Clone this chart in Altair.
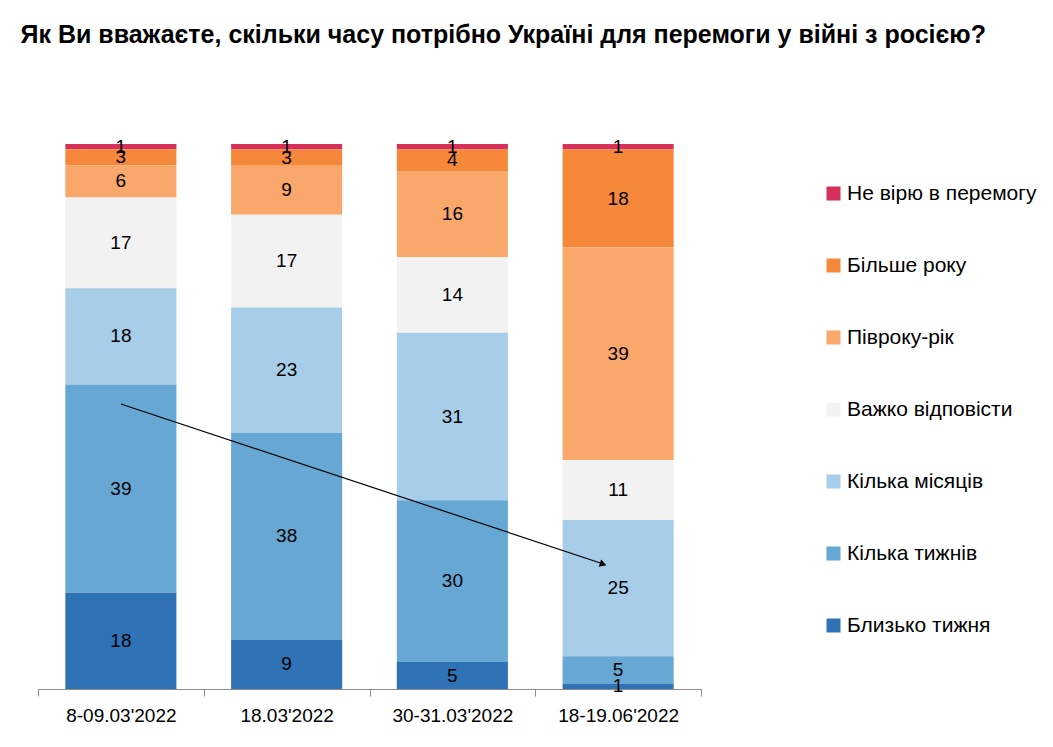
import altair as alt
import pandas as pd

dates = ["8-09.03'2022", "18.03'2022", "30-31.03'2022", "18-19.06'2022"]
answers = ["Не вірю в перемогу", "Більше року", "Півроку-рік", "Важко відповісти",
           "Кілька місяців", "Кілька тижнів", "Близько тижня"]
colors = ["#D6315B", "#F5883A", "#F9A76B", "#F2F2F2", "#A8CDE8", "#66A7D3", "#2F72B5"]

v_ne_viryu = [1, 1, 1, 1]
v_bilshe_roku = [3, 3, 4, 18]
v_pivroku_rik = [6, 9, 16, 39]
v_vazhko = [17, 17, 14, 11]
v_kilka_misyatsiv = [18, 23, 31, 25]
v_kilka_tyzhniv = [39, 38, 30, 5]
v_blyzko_tyzhnya = [18, 9, 5, 1]

series = [v_ne_viryu, v_bilshe_roku, v_pivroku_rik, v_vazhko,
          v_kilka_misyatsiv, v_kilka_tyzhniv, v_blyzko_tyzhnya]

# arrow (share of stacked bar height)
arrow_from = [dates[0]]
arrow_to = [dates[3]]
arrow_y_from = [0.523]
arrow_y_to = [0.229]

rows = []
for ai, (ans, vals) in enumerate(zip(answers, series)):
    for d, v in zip(dates, vals):
        rows.append({"date": d, "answer": ans, "value": v, "ord": len(answers) - 1 - ai})
df = pd.DataFrame(rows)

arrow_df = pd.DataFrame({"x_from": arrow_from, "x_to": arrow_to,
                         "y_from": arrow_y_from, "y_to": arrow_y_to})

FONT = "Liberation Sans"
xscale = alt.Scale(domain=dates, paddingInner=0, paddingOuter=0)

xenc = alt.X("date:N", scale=xscale,
             axis=alt.Axis(title=None, labelAngle=0, tickBand="extent",
                           domainColor="#8c8c8c", tickColor="#8c8c8c", tickSize=7,
                           labelFontSize=19, labelPadding=10, labelColor="black",
                           labelFont=FONT))

bars = alt.Chart(df).mark_bar(width=alt.RelativeBandSize(0.67)).encode(
    x=xenc,
    y=alt.Y("value:Q", stack="normalize", axis=None, scale=alt.Scale(domain=[0, 1])),
    color=alt.Color("answer:N", scale=alt.Scale(domain=answers, range=colors),
                    legend=alt.Legend(title=None, orient="none", legendX=785, legendY=39,
                                      symbolType="square", symbolSize=196,
                                      symbolStrokeWidth=0, labelFontSize=21,
                                      labelFont=FONT, labelColor="black", labelLimit=400,
                                      labelOffset=3, rowPadding=50, padding=0)),
    order=alt.Order("ord:Q", sort="ascending"),
)

labels = alt.Chart(df).transform_stack(
    stack="value", groupby=["date"], as_=["y0", "y1"], offset="normalize",
    sort=[alt.SortField("ord", "ascending")]
).transform_calculate(
    ymid="(datum.y0 + datum.y1) / 2"
).mark_text(fontSize=19, color="black", font=FONT).encode(
    x=alt.X("date:N", scale=xscale),
    y=alt.Y("ymid:Q", axis=None),
    text="value:Q",
)

rule = alt.Chart(arrow_df).mark_rule(color="black", strokeWidth=1.2, x2Offset=-14).encode(
    x=alt.X("x_from:N", scale=xscale),
    x2="x_to:N",
    y="y_from:Q",
    y2="y_to:Q",
)

head = alt.Chart(arrow_df).mark_point(shape="triangle-right", filled=True, color="black",
                                      size=60, angle=18, xOffset=-15, opacity=1).encode(
    x=alt.X("x_to:N", scale=xscale),
    y="y_to:Q",
)

chart = alt.layer(bars, labels, rule, head).properties(
    width=663, height=545,
    padding={"left": 12, "top": 14, "right": 5, "bottom": 5},
    title=alt.TitleParams(
        "Як Ви вважаєте, скільки часу потрібно Україні для перемоги у війні з росією?",
        fontSize=25, fontWeight="bold", font=FONT, color="black",
        anchor="start", dx=-17, offset=90),
).configure_view(stroke=None)

chart.save("out.html", embed_options={"renderer": "svg", "actions": False})
